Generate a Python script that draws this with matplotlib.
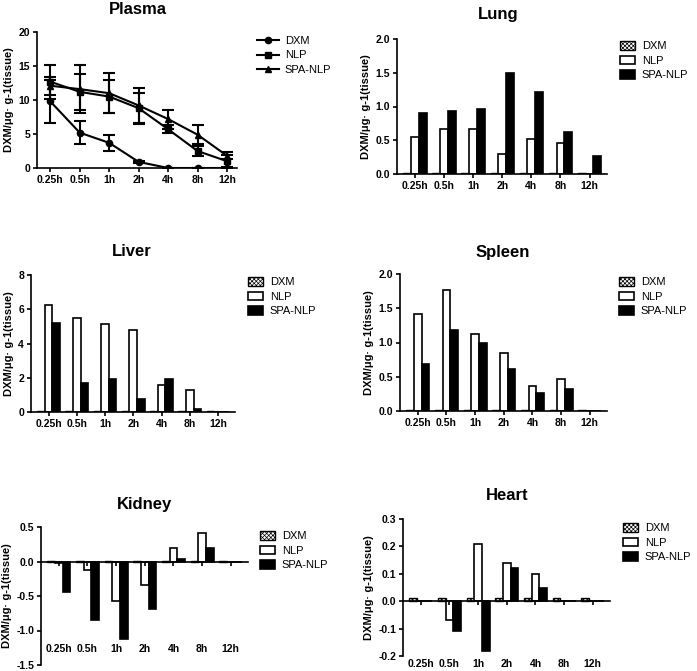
import numpy as np
import matplotlib
matplotlib.use('Agg')
import matplotlib.pyplot as plt
from matplotlib.lines import Line2D

plt.rcParams['font.family'] = ['Liberation Sans', 'DejaVu Sans']
plt.rcParams['hatch.linewidth'] = 0.5

times = ['0.25h', '0.5h', '1h', '2h', '4h', '8h', '12h']
groups = ['DXM', 'NLP', 'SPA-NLP']
ylab = 'DXM/\u03bcg\u00b7 g-1(tissue)'

# plasma: mean and sd per time point
plasma_dxm = [9.8, 5.2, 3.7, 0.9, 0.0, 0.0, 0.0]
plasma_dxm_sd = [3.2, 1.7, 1.2, 0.1, 0.05, 0.05, 0.05]
plasma_nlp = [12.7, 11.2, 10.5, 8.8, 5.7, 2.5, 1.0]
plasma_nlp_sd = [2.5, 2.6, 2.4, 2.3, 0.6, 0.8, 0.9]
plasma_spa = [12.1, 11.6, 11.0, 9.2, 7.2, 4.9, 1.8]
plasma_spa_sd = [1.3, 3.5, 2.9, 2.6, 1.4, 1.4, 0.5]

# tissues: DXM, NLP, SPA-NLP
lung_dxm = [0.01] * 7
lung_nlp = [0.55, 0.66, 0.67, 0.30, 0.52, 0.46, 0.0]
lung_spa = [0.91, 0.94, 0.97, 1.50, 1.21, 0.62, 0.26]

liver_dxm = [0.05] * 7
liver_nlp = [6.24, 5.48, 5.15, 4.80, 1.60, 1.27, 0.0]
liver_spa = [5.17, 1.70, 1.91, 0.74, 1.93, 0.20, 0.0]

spleen_dxm = [0.01] * 7
spleen_nlp = [1.42, 1.76, 1.12, 0.85, 0.37, 0.46, 0.0]
spleen_spa = [0.68, 1.18, 0.99, 0.62, 0.27, 0.32, 0.0]

kidney_dxm = [0.01] * 7
kidney_nlp = [-0.02, -0.12, -0.57, -0.34, 0.20, 0.42, 0.0]
kidney_spa = [-0.44, -0.85, -1.13, -0.69, 0.03, 0.20, 0.0]

heart_dxm = [0.01] * 7
heart_nlp = [0.0, -0.07, 0.21, 0.14, 0.10, 0.0, 0.0]
heart_spa = [0.0, -0.11, -0.18, 0.12, 0.05, 0.0, 0.0]

W, H = 697, 671
fig = plt.figure(figsize=(W / 100, H / 100), dpi=100)


def box(l, r, t, b):
    return [l / W, 1 - b / H, (r - l) / W, (b - t) / H]


def style(ax):
    for s in ['top', 'right']:
        ax.spines[s].set_visible(False)
    for s in ['left', 'bottom']:
        ax.spines[s].set_linewidth(1.2)
    ax.tick_params(direction='out', length=3, width=1.2, labelsize=7.5, pad=2)
    for lab in ax.get_yticklabels():
        lab.set_fontweight('bold')
    ax.set_ylabel(ylab, fontsize=8, fontweight='bold', labelpad=3)


def legend(ax, x, y, **kw):
    ax.legend(loc='upper left', bbox_to_anchor=(x / W, 1 - y / H),
              bbox_transform=fig.transFigure, frameon=False, fontsize=8,
              handlelength=1.35, handleheight=0.8, handletextpad=0.6,
              labelspacing=0.4, borderaxespad=0, borderpad=0, **kw)


def bars(pos, dxm, nlp, spa, ylim, yticks, fmt, title, tpos, lpos):
    ax = fig.add_axes(box(*pos))
    x = np.arange(len(times))
    w = 0.27
    ax.bar(x - w, dxm, w, facecolor='white', edgecolor='black', hatch='xxxxxxxx', lw=1.0, label=groups[0])
    ax.bar(x, nlp, w, facecolor='white', edgecolor='black', lw=1.2, label=groups[1])
    ax.bar(x + w, spa, w, facecolor='black', edgecolor='black', lw=1.2, label=groups[2])
    ax.set_xlim(-0.62, 6.6)
    ax.set_ylim(*ylim)
    ax.set_yticks(yticks)
    ax.set_yticklabels([fmt.format(v) for v in yticks])
    ax.set_xticks(x)
    ax.set_xticklabels(times, fontweight='bold')
    style(ax)
    fig.text(tpos[0] / W, 1 - tpos[1] / H, title, ha='center', va='center',
             fontsize=12, fontweight='bold')
    legend(ax, *lpos)
    return ax


# Plasma
ax = fig.add_axes(box(37, 237, 32, 168))
x = np.arange(len(times))
ekw = dict(color='black', lw=1.5, capsize=4, capthick=1.5, elinewidth=1.5)
marks = ['o', 's', '^']
ax.errorbar(x, plasma_dxm, yerr=plasma_dxm_sd, marker=marks[0], ms=4.5, **ekw)
ax.errorbar(x, plasma_nlp, yerr=plasma_nlp_sd, marker=marks[1], ms=4.5, **ekw)
ax.errorbar(x, plasma_spa, yerr=plasma_spa_sd, marker=marks[2], ms=5, **ekw)
ax.set_xlim(-0.45, 6.34)
ax.set_ylim(0, 20)
ax.set_yticks([0, 5, 10, 15, 20])
ax.set_xticks(x)
ax.set_xticklabels(times, fontweight='bold')
style(ax)
fig.text(138 / W, 1 - 10 / H, 'Plasma', ha='center', va='center', fontsize=12, fontweight='bold')
handles = [Line2D([], [], color='black', lw=1.5, marker=m, ms=4.5, label=g)
           for m, g in zip(marks, groups)]
ax.legend(handles=handles, loc='upper left', bbox_to_anchor=(257 / W, 1 - 36 / H),
          bbox_transform=fig.transFigure, frameon=False, fontsize=8,
          handlelength=2.0, handletextpad=0.5, labelspacing=0.4,
          borderaxespad=0, borderpad=0)

bars((397, 607, 39, 174), lung_dxm, lung_nlp, lung_spa, (0, 2.0),
     [0, 0.5, 1.0, 1.5, 2.0], '{:.1f}', 'Lung', (498, 15), (620, 41))
bars((31, 235, 275, 412), liver_dxm, liver_nlp, liver_spa, (0, 8),
     [0, 2, 4, 6, 8], '{:.0f}', 'Liver', (132, 252), (248, 277))
bars((400, 607, 274, 411), spleen_dxm, spleen_nlp, spleen_spa, (0, 2.0),
     [0, 0.5, 1.0, 1.5, 2.0], '{:.1f}', 'Spleen', (503, 252), (619, 277))

for pos, d, n, s, ylim, yt, title, tpos, lpos, loc in [
        ((41, 248, 527, 665), kidney_dxm, kidney_nlp, kidney_spa, (-1.5, 0.5),
         [-1.5, -1.0, -0.5, 0.0, 0.5], 'Kidney', (145, 505), (260, 531), 0.18),
        ((403, 610, 519, 656), heart_dxm, heart_nlp, heart_spa, (-0.2, 0.3),
         [-0.2, -0.1, 0.0, 0.1, 0.2, 0.3], 'Heart', (507, 495), (623, 523), 0.01)]:
    ax = bars(pos, d, n, s, ylim, yt, '{:.1f}', title, tpos, lpos)
    ax.spines['bottom'].set_position(('data', 0))
    ax.tick_params(axis='x', labelbottom=False)
    sec = ax.secondary_xaxis(loc)
    sec.spines['bottom'].set_visible(False)
    sec.set_xticks(np.arange(len(times)))
    sec.set_xticklabels(times, fontweight='bold')
    sec.tick_params(length=0, labelsize=7.5, pad=3)

fig.savefig('out.png', dpi=100)
